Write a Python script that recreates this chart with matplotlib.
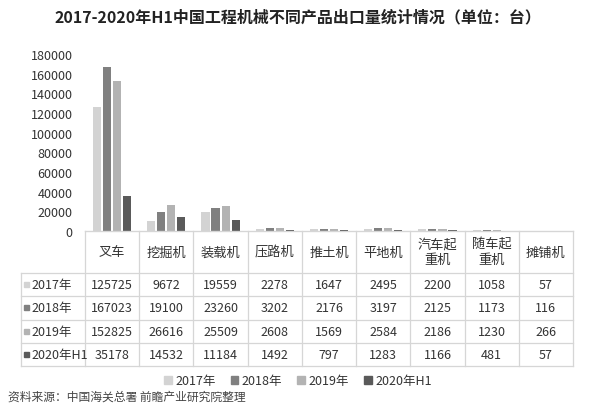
import matplotlib
matplotlib.use("Agg")
import matplotlib.pyplot as plt
from matplotlib.patches import Rectangle
import numpy as np

plt.rcParams['font.family'] = ['Noto Sans CJK SC', 'DejaVu Sans']

categories = ["叉车", "挖掘机", "装载机", "压路机", "推土机", "平地机", "汽车起\n重机", "随车起\n重机", "摊铺机"]
series_names = ["2017年", "2018年", "2019年", "2020年H1"]
v2017 = [125725, 9672, 19559, 2278, 1647, 2495, 2200, 1058, 57]
v2018 = [167023, 19100, 23260, 3202, 2176, 3197, 2125, 1173, 116]
v2019 = [152825, 26616, 25509, 2608, 1569, 2584, 2186, 1230, 266]
v2020h1 = [35178, 14532, 11184, 1492, 797, 1283, 1166, 481, 57]
yticks = [0, 20000, 40000, 60000, 80000, 100000, 120000, 140000, 160000, 180000]

series = [v2017, v2018, v2019, v2020h1]
colors = ["#d3d3d3", "#808080", "#b3b3b3", "#5a5a5a"]
text_color = "#333333"
line_color = "#d6d6d6"

W, H = 600, 410
fig = plt.figure(figsize=(W / 100, H / 100), dpi=100)
fig.patch.set_facecolor("white")

def fx(px):
    return px / W

def fy(py):
    return 1 - py / H

# bar panel
ax_l, ax_r, ax_t, ax_b = 85, 573, 55, 232
ax = fig.add_axes([fx(ax_l), fy(ax_b), fx(ax_r - ax_l), (ax_b - ax_t) / H])
n = len(categories)
x = np.arange(n)
bw, step = 0.15, 0.185
for k, (vals, c) in enumerate(zip(series, colors)):
    ax.bar(x + (k - 1.5) * step, vals, width=bw, color=c, label=series_names[k])
ax.set_xlim(-0.5, n - 0.5)
ax.set_ylim(0, 180000)
ax.set_yticks(yticks)
ax.set_yticklabels([str(t) for t in yticks], fontsize=9, color=text_color)
ax.set_xticks([])
for s in ["top", "right", "left"]:
    ax.spines[s].set_visible(False)
ax.spines["bottom"].set_color(line_color)
ax.tick_params(axis="y", length=0, pad=9)
ax.patch.set_alpha(0)

# data table below the bars
tb_l, tb_r, tb_t, tb_b = 21, 573, 232, 367
hdr_w = (ax_l - tb_l) / ((ax_r - ax_l) / n)
tax = fig.add_axes([fx(tb_l), fy(tb_b), fx(tb_r - tb_l), (tb_b - tb_t) / H])
tax.set_xlim(-0.5 - hdr_w, n - 0.5)
tax.set_ylim(tb_b - tb_t, 0)
tax.axis("off")
hdr_h = 42
row_h = (tb_b - tb_t - hdr_h) / len(series)
row_edges = [0, hdr_h] + [hdr_h + row_h * (i + 1) for i in range(len(series))]

lk = dict(color=line_color, lw=0.9, clip_on=False)
# horizontal rules
tax.plot([-0.5, n - 0.5], [0, 0], **lk)
for yv in row_edges[1:]:
    tax.plot([-0.5 - hdr_w, n - 0.5], [yv, yv], **lk)
# vertical rules
for xv in np.arange(-0.5, n, 1.0):
    tax.plot([xv, xv], [0, row_edges[-1]], **lk)
tax.plot([-0.5 - hdr_w] * 2, [hdr_h, row_edges[-1]], **lk)

for i, cat in enumerate(categories):
    tax.text(i, hdr_h / 2, cat, ha="center", va="center", fontsize=9.5,
             color=text_color, linespacing=1.2)
for r, (vals, name, c) in enumerate(zip(series, series_names, colors)):
    yc = hdr_h + row_h * (r + 0.5)
    x0 = -0.5 - hdr_w + 0.05
    tax.add_patch(Rectangle((x0, yc - 2.5), 0.09, 5, color=c, clip_on=False))
    tax.text(x0 + 0.14, yc, name, ha="left", va="center", fontsize=9, color=text_color)
    for i, v in enumerate(vals):
        tax.text(i, yc, str(v), ha="center", va="center", fontsize=9, color=text_color)

# legend
handles = [Rectangle((0, 0), 1, 1, color=c) for c in colors]
fig.legend(handles, series_names, loc="center", bbox_to_anchor=(fx(298), fy(382)),
           ncol=4, frameon=False, fontsize=9, handlelength=0.6, handleheight=0.6,
           handletextpad=0.3, columnspacing=1.2, labelcolor=text_color)

fig.text(fx(298), fy(17), "2017-2020年H1中国工程机械不同产品出口量统计情况（单位：台）",
         ha="center", va="center", fontsize=11.5, fontweight="bold", color="#222222")
fig.text(fx(8), fy(397), "资料来源：中国海关总署 前瞻产业研究院整理",
         ha="left", va="center", fontsize=8.5, color="#444444")

fig.savefig("out.png", dpi=100, facecolor="white")
